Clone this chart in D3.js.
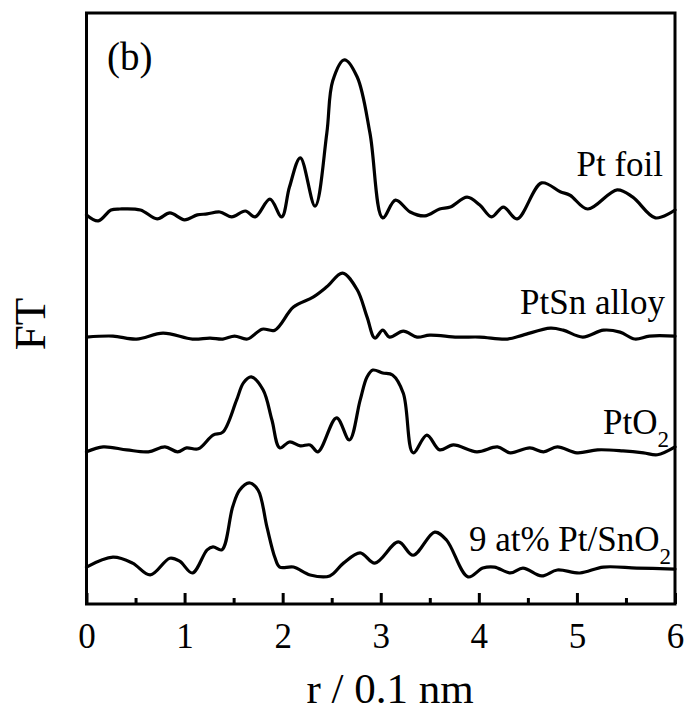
<!DOCTYPE html>
<html>
<head>
<meta charset="utf-8">
<script src="https://cdn.jsdelivr.net/npm/d3@7"></script>
<style>
  html, body { margin: 0; padding: 0; background: #fff; }
  svg { display: block; }
  text { font-family: "Liberation Serif", "Times New Roman", serif; fill: #000; }
</style>
</head>
<body>
<svg id="chart" width="688" height="711"></svg>
<script>
// Fourier-transformed EXAFS magnitudes (stacked, arbitrary units) vs r / 0.1 nm
const ptFoil = [
  [0.00, 7.90], [0.12, 7.78], [0.25, 8.00], [0.34, 8.02], [0.55, 8.00], [0.72, 7.82],
  [0.85, 7.94], [1.00, 7.80], [1.13, 7.90], [1.23, 7.92], [1.36, 7.96], [1.48, 7.86],
  [1.62, 7.98], [1.72, 7.86], [1.87, 8.22], [1.99, 7.86], [2.07, 8.47], [2.18, 9.06],
  [2.33, 8.08], [2.45, 9.56], [2.51, 10.62], [2.63, 11.05], [2.76, 10.70], [2.89, 9.56],
  [3.02, 7.84], [3.15, 8.20], [3.30, 7.96], [3.45, 7.88], [3.60, 8.02], [3.71, 8.06],
  [3.88, 8.26], [4.01, 8.10], [4.13, 7.86], [4.25, 8.06], [4.39, 7.82], [4.64, 8.55],
  [4.83, 8.37], [4.93, 8.30], [5.11, 8.02], [5.41, 8.41], [5.57, 8.26], [5.80, 7.84],
  [6.00, 8.00]
];
const ptSnAlloy = [
  [0.00, 5.42], [0.27, 5.44], [0.51, 5.38], [0.78, 5.50], [1.08, 5.38], [1.26, 5.40],
  [1.39, 5.38], [1.51, 5.44], [1.64, 5.38], [1.79, 5.58], [1.92, 5.56], [2.11, 6.03],
  [2.31, 6.23], [2.45, 6.44], [2.61, 6.72], [2.76, 6.38], [2.86, 5.83], [2.94, 5.40],
  [3.02, 5.56], [3.09, 5.42], [3.23, 5.54], [3.37, 5.42], [3.50, 5.46], [3.78, 5.42],
  [4.01, 5.42], [4.29, 5.38], [4.45, 5.46], [4.73, 5.60], [4.86, 5.56], [5.06, 5.42],
  [5.27, 5.56], [5.44, 5.52], [5.59, 5.38], [5.74, 5.44], [6.00, 5.44]
];
const ptO2 = [
  [0.00, 3.09], [0.17, 3.19], [0.41, 3.13], [0.63, 3.09], [0.80, 3.19], [0.93, 3.09],
  [1.02, 3.17], [1.14, 3.15], [1.29, 3.43], [1.39, 3.49], [1.53, 4.14], [1.60, 4.49],
  [1.68, 4.61], [1.80, 4.35], [1.89, 3.74], [1.97, 3.17], [2.07, 3.29], [2.18, 3.21],
  [2.28, 3.23], [2.36, 3.09], [2.55, 3.78], [2.68, 3.33], [2.79, 4.14], [2.86, 4.61],
  [2.92, 4.75], [3.02, 4.69], [3.12, 4.65], [3.23, 4.28], [3.33, 3.07], [3.47, 3.43],
  [3.60, 3.13], [3.74, 3.23], [3.98, 3.09], [4.19, 3.19], [4.32, 3.07], [4.52, 3.17],
  [4.66, 3.09], [4.80, 3.19], [5.00, 3.07], [5.21, 3.13], [5.47, 3.11], [5.68, 3.07],
  [5.82, 3.03], [6.00, 3.19]
];
const ptSnO2 = [
  [0.00, 0.75], [0.27, 0.95], [0.47, 0.83], [0.65, 0.59], [0.85, 0.93], [0.95, 0.87],
  [1.08, 0.63], [1.23, 1.10], [1.29, 1.16], [1.38, 1.10], [1.49, 1.97], [1.56, 2.31],
  [1.66, 2.46], [1.75, 2.31], [1.84, 1.56], [1.92, 0.95], [1.97, 0.75], [2.11, 0.75],
  [2.28, 0.59], [2.48, 0.57], [2.62, 0.83], [2.79, 1.04], [2.94, 0.83], [3.18, 1.26],
  [3.33, 0.99], [3.55, 1.46], [3.67, 1.30], [3.89, 0.55], [4.04, 0.73], [4.16, 0.75],
  [4.32, 0.63], [4.45, 0.73], [4.64, 0.57], [4.80, 0.69], [5.03, 0.63], [5.27, 0.75],
  [5.61, 0.73], [6.00, 0.71]
];
const xTicks = [0, 1, 2, 3, 4, 5, 6];
const xMinorTicks = [0.5, 1.5, 2.5, 3.5, 4.5, 5.5];

const svg = d3.select("#chart");
const plotLeft = 86.5, plotRight = 675, plotTop = 13, plotBottom = 604;

const x = d3.scaleLinear().domain([0, 6]).range([plotLeft, plotRight]);
const y = d3.scaleLinear().domain([0, 12]).range([plotBottom, plotTop]);

const line = d3.line()
  .x(d => x(d[0]))
  .y(d => y(d[1]))
  .curve(d3.curveCatmullRom.alpha(0.5));

// spectra
[ptFoil, ptSnAlloy, ptO2, ptSnO2].forEach(s => {
  svg.append("path")
    .attr("d", line(s))
    .attr("fill", "none")
    .attr("stroke", "#000")
    .attr("stroke-width", 3.2)
    .attr("stroke-linejoin", "round")
    .attr("stroke-linecap", "round");
});

// bottom axis: inward major and minor ticks
const xAxis = d3.axisBottom(x).tickValues(xTicks).tickSizeInner(-11).tickSizeOuter(0).tickFormat(d3.format("d"));
const gx = svg.append("g").attr("transform", `translate(0,${plotBottom})`).call(xAxis);
gx.select(".domain").remove();
gx.selectAll(".tick line").attr("stroke", "#000").attr("stroke-width", 3);
gx.selectAll(".tick text")
  .attr("y", 44).attr("dy", 0)
  .style("font-family", '"Liberation Serif", "Times New Roman", serif')
  .style("font-size", "35px");

const gxm = svg.append("g").attr("transform", `translate(0,${plotBottom})`)
  .call(d3.axisBottom(x).tickValues(xMinorTicks).tickSizeInner(-6).tickSizeOuter(0).tickFormat(""));
gxm.select(".domain").remove();
gxm.selectAll(".tick line").attr("stroke", "#000").attr("stroke-width", 3);

// frame
svg.append("rect")
  .attr("x", plotLeft).attr("y", plotTop)
  .attr("width", plotRight - plotLeft).attr("height", plotBottom - plotTop)
  .attr("fill", "none").attr("stroke", "#000").attr("stroke-width", 3);

// axis titles
svg.append("text")
  .attr("x", 390).attr("y", 703)
  .attr("text-anchor", "middle")
  .style("font-size", "43px")
  .text("r / 0.1 nm");

svg.append("text")
  .attr("transform", "translate(45,324) rotate(-90)")
  .attr("text-anchor", "middle")
  .style("font-size", "45px")
  .text("FT");

svg.append("text")
  .attr("x", 107).attr("y", 70)
  .style("font-size", "39px")
  .text("(b)");

// series labels
function label(xEnd, yBase, main, sub) {
  const t = svg.append("text")
    .attr("x", xEnd).attr("y", yBase)
    .attr("text-anchor", "end")
    .style("font-size", "35px");
  t.append("tspan").text(main);
  if (sub) {
    t.append("tspan").attr("dy", 13).style("font-size", "23px").text(sub);
  }
}
label(663, 176, "Pt foil");
label(665, 314, "PtSn alloy");
label(669, 434, "PtO", "2");
label(671, 551, "9 at% Pt/SnO", "2");
</script>
</body>
</html>
